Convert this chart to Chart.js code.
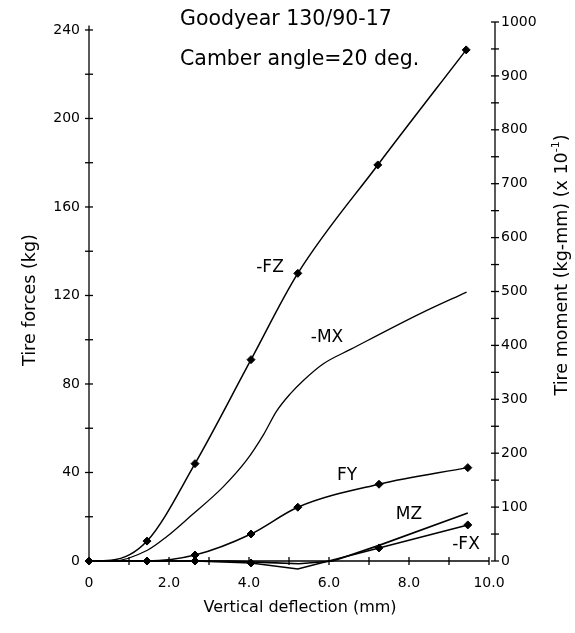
<!DOCTYPE html>
<html>
<head>
<meta charset="utf-8">
<script src="https://cdn.jsdelivr.net/npm/chart.js@4.4.1/dist/chart.umd.min.js"></script>
<style>
  html, body { margin: 0; padding: 0; background: #fff; }
  #wrap { width: 575px; height: 633px; }
</style>
</head>
<body>
<div id="wrap"><canvas id="tireChart" width="575" height="633"></canvas></div>
<script>
// Chart data

// vertical deflection (mm) where forces were measured
const xDefl = [0, 1.45, 2.65, 4.05, 5.22, 7.25, 9.47];

// forces, kg (left axis)
const fzX = [0, 0.55, 1.45, 2.65, 4.05, 5.22, 7.22, 9.43];
const fzY = [0, 0.3, 9, 44, 91, 130, 179, 231];
const fyY = [0, 0, 2.7, 12.2, 24.3, 34.7, 42.2];
const fxY = [0, 0, 0, -0.9, -3.6, 5.9, 16.3];

// moments, kg-mm x 10^-1 (right axis), traced curves
const mxX = [0, 0.6, 1.46, 1.94, 2.52, 3.36, 3.94, 4.36, 4.69, 5.03, 5.36, 5.86, 6.55, 8.28, 9.44];
const mxY = [0, 0, 20, 45, 82, 138, 187, 234, 278, 310, 335, 366, 393, 459, 499];
const mzX = [0, 3.5, 4.5, 5.25, 6.1, 7.25, 9.47];
const mzY = [0, 0, -3, -5, 0, 29, 89];

// tick labels
const xTicks = [0, 2, 4, 6, 8, 10];
const forceTicks = [0, 40, 80, 120, 160, 200, 240];
const momentTicks = [0, 100, 200, 300, 400, 500, 600, 700, 800, 900, 1000];

const pts = (xs, ys) => xs.map((x, i) => ({ x: x, y: ys[i] }));
const FONT = '"DejaVu Sans", sans-serif';

// axis lines, cross ticks and the text labels
const decor = {
  id: 'decor',
  afterDraw(chart) {
    const { ctx, scales: { x, y, y2 }, chartArea } = chart;
    const line = (x1, y1, x2, y2_) => { ctx.beginPath(); ctx.moveTo(x1, y1); ctx.lineTo(x2, y2_); ctx.stroke(); };
    ctx.save();
    ctx.strokeStyle = '#000';
    ctx.lineWidth = 1.3;

    // left axis
    const xl = x.getPixelForValue(0);
    line(xl, y.getPixelForValue(0), xl, y.getPixelForValue(242));
    for (let v = 0; v <= 240; v += 20) { const p = y.getPixelForValue(v); line(xl - 4, p, xl + 4, p); }

    // right axis
    const xr = chartArea.right;
    line(xr, y2.getPixelForValue(0), xr, y2.getPixelForValue(1000));
    for (let v = 0; v <= 1000; v += 50) { const p = y2.getPixelForValue(v); line(xr - 4, p, xr + 4, p); }

    // bottom axis
    const yb = y.getPixelForValue(0);
    line(xl, yb, x.getPixelForValue(10), yb);
    for (let v = 0; v <= 10; v += 1) { const p = x.getPixelForValue(v); line(p, yb - 4, p, yb + 4); }

    ctx.fillStyle = '#000';
    ctx.textBaseline = 'middle';

    // title block
    ctx.textAlign = 'left';
    ctx.font = '20.5px ' + FONT;
    ctx.fillText('Goodyear 130/90-17', 180, 20);
    ctx.fillText('Camber angle=20 deg.', 180, 60);

    // curve labels
    ctx.textAlign = 'center';
    ctx.font = '17px ' + FONT;
    ctx.fillText('-FZ', 270, 268);
    ctx.fillText('-MX', 327, 338);
    ctx.fillText('FY', 347, 476);
    ctx.fillText('MZ', 409, 515);
    ctx.fillText('-FX', 466, 545);

    // axis titles
    ctx.font = '16px ' + FONT;
    ctx.fillText('Vertical deflection (mm)', 300, 608);
    ctx.font = '17.5px ' + FONT;
    ctx.save(); ctx.translate(30, 300); ctx.rotate(-Math.PI / 2);
    ctx.fillText('Tire forces (kg)', 0, 0); ctx.restore();

    // right title with a raised exponent
    ctx.save(); ctx.translate(562, 265); ctx.rotate(-Math.PI / 2);
    ctx.textAlign = 'left';
    const partA = 'Tire moment (kg-mm) (x 10', sup = '-1', partB = ')';
    const wA = ctx.measureText(partA).width, wB = ctx.measureText(partB).width;
    ctx.font = '11px ' + FONT;
    const wS = ctx.measureText(sup).width;
    let cx = -(wA + wS + wB) / 2;
    ctx.font = '17.5px ' + FONT;
    ctx.fillText(partA, cx, 0); cx += wA;
    ctx.font = '11px ' + FONT;
    ctx.fillText(sup, cx, -6); cx += wS;
    ctx.font = '17.5px ' + FONT;
    ctx.fillText(partB, cx, 0);
    ctx.restore();

    ctx.restore();
  }
};

const marker = { pointStyle: 'rectRot', pointRadius: 4, pointBackgroundColor: '#000', pointBorderColor: '#000', pointBorderWidth: 1 };

new Chart(document.getElementById('tireChart'), {
  type: 'line',
  data: {
    datasets: [
      { label: '-FZ', data: pts(fzX, fzY), yAxisID: 'y', borderColor: '#000', borderWidth: 1.5, cubicInterpolationMode: 'monotone', clip: false, ...marker,
        pointRadius: (c) => (c.dataIndex === 1 ? 0 : 4) },
      { label: 'FY', data: pts(xDefl, fyY), yAxisID: 'y', borderColor: '#000', borderWidth: 1.5, cubicInterpolationMode: 'monotone', clip: false, ...marker },
      { label: '-FX', data: pts(xDefl, fxY), yAxisID: 'y', borderColor: '#000', borderWidth: 1.6, tension: 0, clip: false, ...marker },
      { label: '-MX', data: pts(mxX, mxY), yAxisID: 'y2', borderColor: '#000', borderWidth: 1.3, cubicInterpolationMode: 'monotone', clip: false, pointRadius: 0 },
      { label: 'MZ', data: pts(mzX, mzY), yAxisID: 'y2', borderColor: '#000', borderWidth: 1.6, tension: 0, clip: false, pointRadius: 0 }
    ]
  },
  options: {
    responsive: false,
    animation: false,
    layout: { padding: { top: 22, left: 0, right: 0, bottom: 0 } },
    plugins: { legend: { display: false }, tooltip: { enabled: false } },
    scales: {
      x: {
        type: 'linear', min: 0, max: 10.15,
        afterBuildTicks: (s) => { s.ticks = xTicks.map(v => ({ value: v })); },
        afterFit: (s) => { s.height = 72; },
        ticks: { callback: (v) => (v === 0 ? '0' : v.toFixed(1)), color: '#000', font: { family: FONT, size: 14 }, padding: 14, maxRotation: 0 },
        grid: { display: false, drawTicks: false },
        border: { display: false }
      },
      y: {
        position: 'left', min: 0, max: 243.6,
        afterBuildTicks: (s) => { s.ticks = forceTicks.map(v => ({ value: v })); },
        afterFit: (s) => { s.width = 89; },
        ticks: { callback: (v) => String(v), color: '#000', font: { family: FONT, size: 14 }, padding: 9 },
        grid: { display: false, drawTicks: false },
        border: { display: false }
      },
      y2: {
        position: 'right', min: 0, max: 1000,
        afterBuildTicks: (s) => { s.ticks = momentTicks.map(v => ({ value: v })); },
        afterFit: (s) => { s.width = 80; },
        ticks: { callback: (v) => String(v), color: '#000', font: { family: FONT, size: 14 }, padding: 6 },
        grid: { display: false, drawTicks: false },
        border: { display: false }
      }
    }
  },
  plugins: [decor]
});
</script>
</body>
</html>
